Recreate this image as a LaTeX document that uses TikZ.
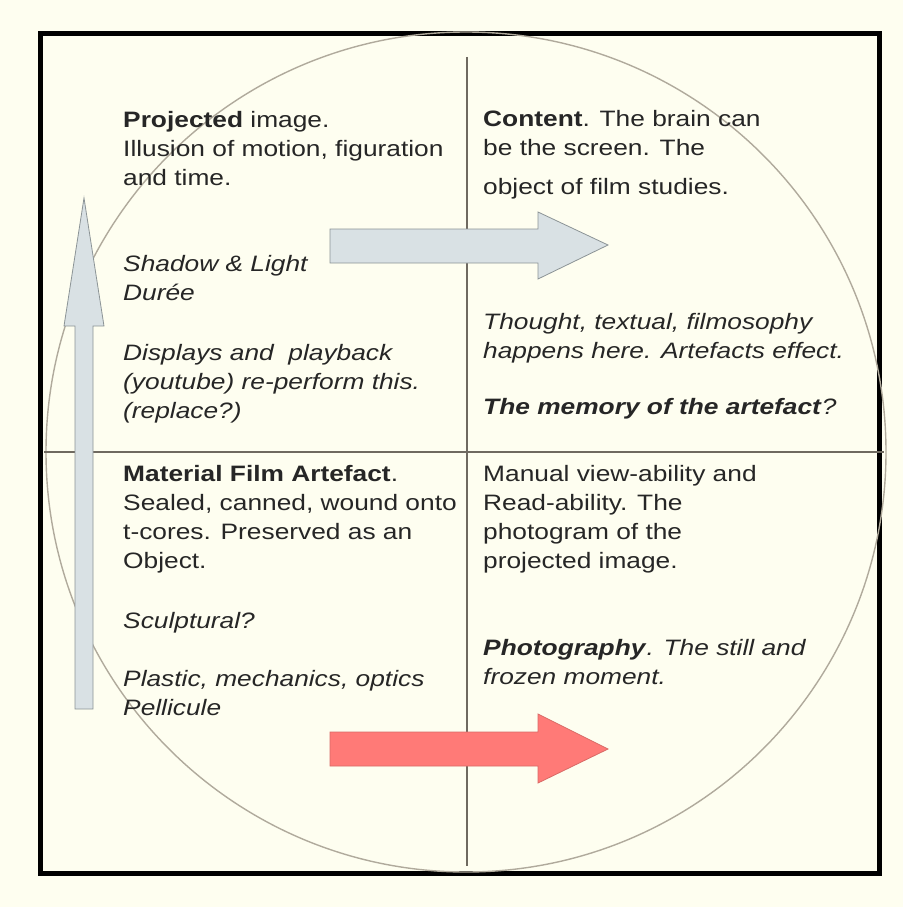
\documentclass[tikz,border=0pt]{standalone}
\usepackage{fontspec}
\setmainfont[FakeStretch=1.18]{Liberation Sans}
\usepackage{tikz}
\usetikzlibrary{positioning}

\definecolor{paper}{HTML}{FEFEF0}
\definecolor{axisgray}{HTML}{6F6A60}
\definecolor{ringgray}{HTML}{B0AA9C}
\definecolor{bluefill}{HTML}{D9E1E4}
\definecolor{blueedge}{HTML}{8C9496}
\definecolor{redfill}{HTML}{FF7A77}
\definecolor{rededge}{HTML}{D96A66}

\begin{document}
\begin{tikzpicture}[
    x=1pt, y=-1pt,
    quad/.style={anchor=north west, inner sep=0pt, align=left, text=black!85, font=\fontsize{22.3}{29}\selectfont},
    axis/.style={draw=axisgray, line width=1.8pt},
    ring/.style={draw=ringgray, line width=1.4pt},
    frame/.style={draw=black, line width=5.5pt},
    bluearrow/.style={fill=bluefill, draw=blueedge, line width=0.8pt, line join=miter},
    redarrow/.style={fill=redfill, draw=rededge, line width=0.8pt, line join=miter},
]

% Background and frame
\fill[paper] (0,0) rectangle (903,907);
\draw[frame] (40.5,33.5) rectangle (879.5,873.5);

% Circle and axes
\draw[ring] (466,452) circle [radius=420];
\draw[axis] (467,57) -- (467,866);
\draw[axis] (44,452) -- (884,452);

% Block arrows
\draw[bluearrow] (75,709) -- (75,326) -- (64,326) -- (84,198) -- (104,326) -- (93,326) -- (93,709) -- cycle;
\draw[bluearrow] (330,229) -- (538,229) -- (538,212) -- (608,245) -- (538,279) -- (538,263) -- (330,263) -- cycle;
\draw[redarrow] (330,732) -- (538,732) -- (538,714) -- (608,749) -- (538,783) -- (538,766) -- (330,766) -- cycle;

% Quadrant texts
\node[quad] (projected) at (123,111) {%
  \textbf{Projected} image.\\
  Illusion of motion, figuration\\
  and time.\\[57pt]
  \textit{Shadow \& Light}\\
  \textit{Durée}\\[31pt]
  \textit{Displays and\ \ playback}\\
  \textit{(youtube) re-perform this.}\\
  \textit{(replace?)}};
\node[quad] (content) at (483,110) {%
  \textbf{Content}. The brain can\\
  be the screen. The\\[10pt]
  object of film studies.\\[106pt]
  \textit{Thought, textual, filmosophy}\\
  \textit{happens here. Artefacts effect.}\\[27pt]
  \textbf{\textit{The memory of the artefact}}\textit{?}};
\node[quad] (artefact) at (123,465) {%
  \textbf{Material Film Artefact}.\\
  Sealed, canned, wound onto\\
  t-cores. Preserved as an\\
  Object.\\[31pt]
  \textit{Sculptural?}\\[29pt]
  \textit{Plastic, mechanics, optics}\\
  \textit{Pellicule}};
\node[quad] (photogram) at (483,465) {%
  Manual view-ability and\\
  Read-ability. The\\
  photogram of the\\
  projected image.\\[58pt]
  \textbf{\textit{Photography}}\textit{. The still and}\\
  \textit{frozen moment.}};

\end{tikzpicture}
\end{document}
